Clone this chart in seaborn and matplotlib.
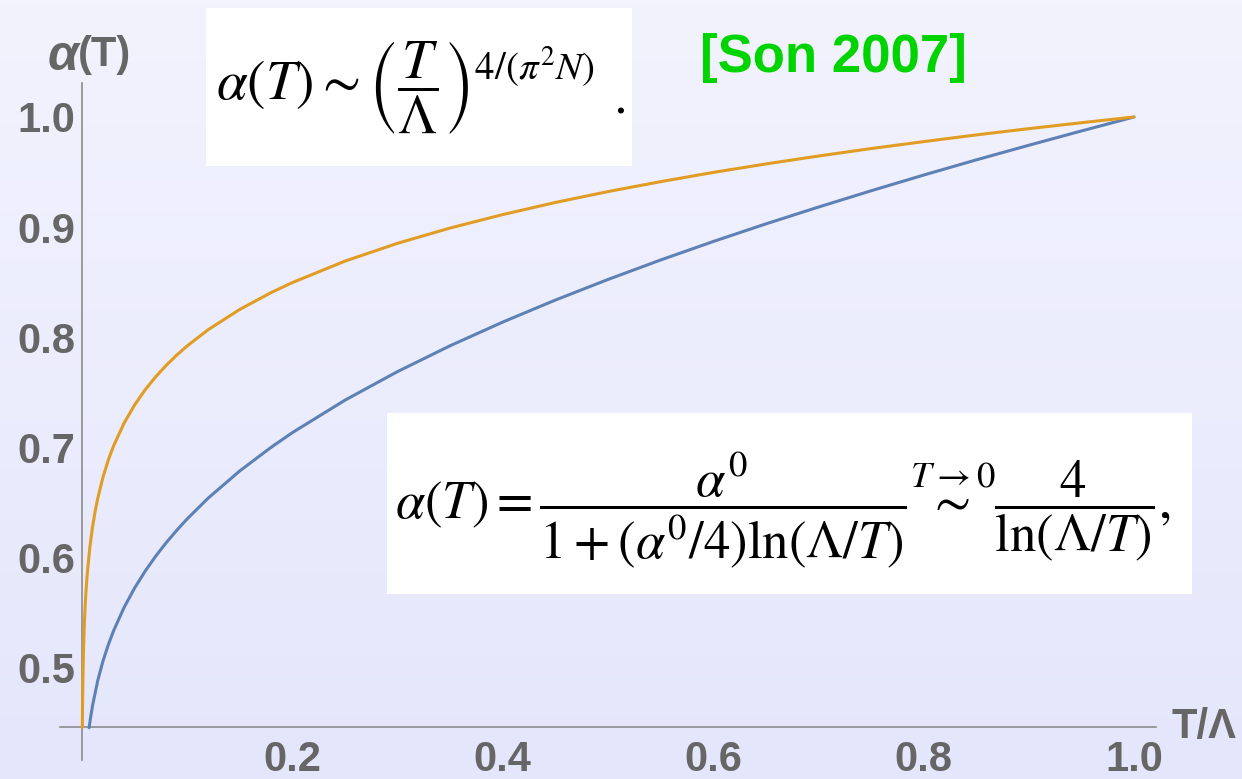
import numpy as np
import pandas as pd
import matplotlib
matplotlib.use("Agg")
import matplotlib.pyplot as plt
from matplotlib.patches import Rectangle
from matplotlib.ticker import FixedLocator
import seaborn as sns

# Running coupling, one-loop form (blue)
t_one_loop = [0.0068, 0.008, 0.01, 0.015, 0.02, 0.025, 0.03, 0.04, 0.05, 0.06, 0.07,
              0.08, 0.09, 0.1, 0.12, 0.15, 0.18, 0.2, 0.25, 0.3, 0.35, 0.4, 0.45,
              0.5, 0.55, 0.6, 0.65, 0.7, 0.75, 0.8, 0.85, 0.9, 0.95, 1.0]
alpha_one_loop = [0.4449, 0.4531, 0.4648, 0.4878, 0.5056, 0.5202, 0.5329, 0.5541,
                  0.5718, 0.5871, 0.6007, 0.6130, 0.6242, 0.6347, 0.6536, 0.6783,
                  0.6999, 0.7131, 0.7426, 0.7686, 0.7921, 0.8136, 0.8336, 0.8523,
                  0.8700, 0.8868, 0.9028, 0.9181, 0.9329, 0.9472, 0.9610, 0.9743,
                  0.9873, 1.0]

# Power-law form (orange)
t_power = [0.00034, 0.0005, 0.00075, 0.001, 0.0015, 0.002, 0.0025, 0.003, 0.0035,
           0.004, 0.005, 0.0075, 0.01, 0.0125, 0.015, 0.02, 0.025, 0.03, 0.04, 0.05,
           0.06, 0.07, 0.08, 0.09, 0.1, 0.12, 0.15, 0.18, 0.2, 0.25, 0.3, 0.35, 0.4,
           0.45, 0.5, 0.55, 0.6, 0.65, 0.7, 0.75, 0.8, 0.85, 0.9, 0.95, 1.0]
alpha_power = [0.4452, 0.4630, 0.4824, 0.4966, 0.5175, 0.5328, 0.5450, 0.5551,
               0.5638, 0.5715, 0.5846, 0.6091, 0.6272, 0.6415, 0.6534, 0.6728,
               0.6881, 0.7010, 0.7217, 0.7382, 0.7520, 0.7638, 0.7742, 0.7835,
               0.7919, 0.8067, 0.8251, 0.8405, 0.8495, 0.8690, 0.8852, 0.8991,
               0.9113, 0.9223, 0.9322, 0.9412, 0.9496, 0.9573, 0.9645, 0.9713,
               0.9776, 0.9837, 0.9894, 0.9948, 1.0]

x_major = [0.2, 0.4, 0.6, 0.8, 1.0]
x_labels = ["0.2", "0.4", "0.6", "0.8", "1.0"]
y_major = [0.5, 0.6, 0.7, 0.8, 0.9, 1.0]
y_labels = ["0.5", "0.6", "0.7", "0.8", "0.9", "1.0"]

sns.set_theme(style="white")
plt.rcParams["font.family"] = ["Liberation Sans", "DejaVu Sans"]
plt.rcParams["mathtext.fontset"] = "stix"

W, H = 1242, 779
fig = plt.figure(figsize=(W / 100, H / 100), dpi=100)

# soft lavender gradient backdrop
bg = fig.add_axes([0, 0, 1, 1], zorder=-10)
top_c = np.array([0xF3, 0xF3, 0xFE]) / 255
bot_c = np.array([0xE4, 0xE6, 0xFB]) / 255
g = np.linspace(0, 1, 256)[:, None]
grad = top_c[None, None, :] * (1 - g[..., None]) + bot_c[None, None, :] * g[..., None]
grad = np.repeat(grad, 2, axis=1)
bg.imshow(grad, aspect="auto", extent=[0, 1, 0, 1])
bg.set_axis_off()


def fx(px):
    return px / W


def fy(py):
    return 1 - py / H


ax_left, ax_right, ax_top, ax_bot = 60, 1156, 83, 760
ax = fig.add_axes([fx(ax_left), fy(ax_bot), fx(ax_right) - fx(ax_left), fy(ax_top) - fy(ax_bot)])
ax.set_facecolor("none")

x_cross = 0.0
y_cross = 0.44545
ax.set_xlim(-0.0209, 1.0209)
ax.set_ylim(0.4155, 1.0309)

df_one = pd.DataFrame({"t": t_one_loop, "alpha": alpha_one_loop})
df_pow = pd.DataFrame({"t": t_power, "alpha": alpha_power})
sns.lineplot(data=df_one, x="t", y="alpha", sort=False, estimator=None,
             color="#5E81B5", lw=2.2, ax=ax, zorder=3, solid_joinstyle="round")
sns.lineplot(data=df_pow, x="t", y="alpha", sort=False, estimator=None,
             color="#E19C24", lw=2.2, ax=ax, zorder=4, solid_joinstyle="round")

axis_grey = "#8C8C8C"
label_grey = "#666666"
for side in ["top", "right"]:
    ax.spines[side].set_visible(False)
ax.spines["left"].set_position(("data", x_cross))
ax.spines["bottom"].set_position(("data", y_cross))
for side in ["left", "bottom"]:
    ax.spines[side].set_color(axis_grey)
    ax.spines[side].set_linewidth(1.2)

ax.xaxis.set_major_locator(FixedLocator(x_major))
ax.set_xticklabels(x_labels)
ax.xaxis.set_minor_locator(FixedLocator([0.05, 0.1, 0.15, 0.25, 0.3, 0.35, 0.45, 0.5, 0.55,
                                         0.65, 0.7, 0.75, 0.85, 0.9, 0.95]))
ax.yaxis.set_major_locator(FixedLocator(y_major))
ax.set_yticklabels(y_labels)
ax.yaxis.set_minor_locator(FixedLocator([0.42, 0.44, 0.46, 0.48, 0.52, 0.54, 0.56, 0.58,
                                         0.62, 0.64, 0.66, 0.68, 0.72, 0.74, 0.76, 0.78,
                                         0.82, 0.84, 0.86, 0.88, 0.92, 0.94, 0.96, 0.98, 1.02]))
ax.tick_params(axis="both", which="major", direction="in", length=5.5, width=1.0,
               color=axis_grey, labelsize=30, labelcolor=label_grey)
ax.tick_params(axis="both", which="minor", direction="in", length=3.2, width=0.9,
               color=axis_grey)
ax.tick_params(axis="x", which="major", pad=9)
ax.tick_params(axis="y", which="major", pad=5)
for lab in ax.get_xticklabels() + ax.get_yticklabels():
    lab.set_fontweight("bold")
ax.set_xlabel("")
ax.set_ylabel("")

# axis labels
fig.text(fx(79), fy(57), "α", fontsize=36, fontweight="bold", fontstyle="italic",
         color=label_grey, ha="right", va="center")
fig.text(fx(78), fy(55), "(T)", fontsize=30, fontweight="bold",
         color=label_grey, ha="left", va="center")
fig.text(fx(1172), fy(727), "T/Λ", fontsize=30, fontweight="bold",
         color=label_grey, ha="left", va="center")

# formula panels
fig.patches.append(Rectangle((fx(206), fy(166)), fx(632) - fx(206), fy(8) - fy(166),
                             transform=fig.transFigure, facecolor="white",
                             edgecolor="none", zorder=5))
fig.patches.append(Rectangle((fx(387), fy(594)), fx(1192) - fx(387), fy(413) - fy(594),
                             transform=fig.transFigure, facecolor="white",
                             edgecolor="none", zorder=5))

fig.text(fx(216), fy(88),
         r"$\alpha(T) \sim \left(\dfrac{T}{\Lambda}\right)^{4/(\pi^2 N)}$",
         fontsize=40, color="black", ha="left", va="center", zorder=6)
fig.text(fx(620), fy(100), ".", fontsize=40, color="black", family="STIXGeneral",
         ha="center", va="center", zorder=6)

fig.text(fx(395), fy(510),
         r"$\alpha(T) = \dfrac{\alpha^0}{1 + (\alpha^0/4)\ln(\Lambda/T)}"
         r" \overset{T\to 0}{\sim} \dfrac{4}{\ln(\Lambda/T)},$",
         fontsize=38, color="black", ha="left", va="center", zorder=6)

fig.text(fx(833), fy(58), "[Son 2007]", fontsize=38, fontweight="bold",
         color="#00D400", ha="center", va="center")

fig.savefig("out.png", dpi=100)
